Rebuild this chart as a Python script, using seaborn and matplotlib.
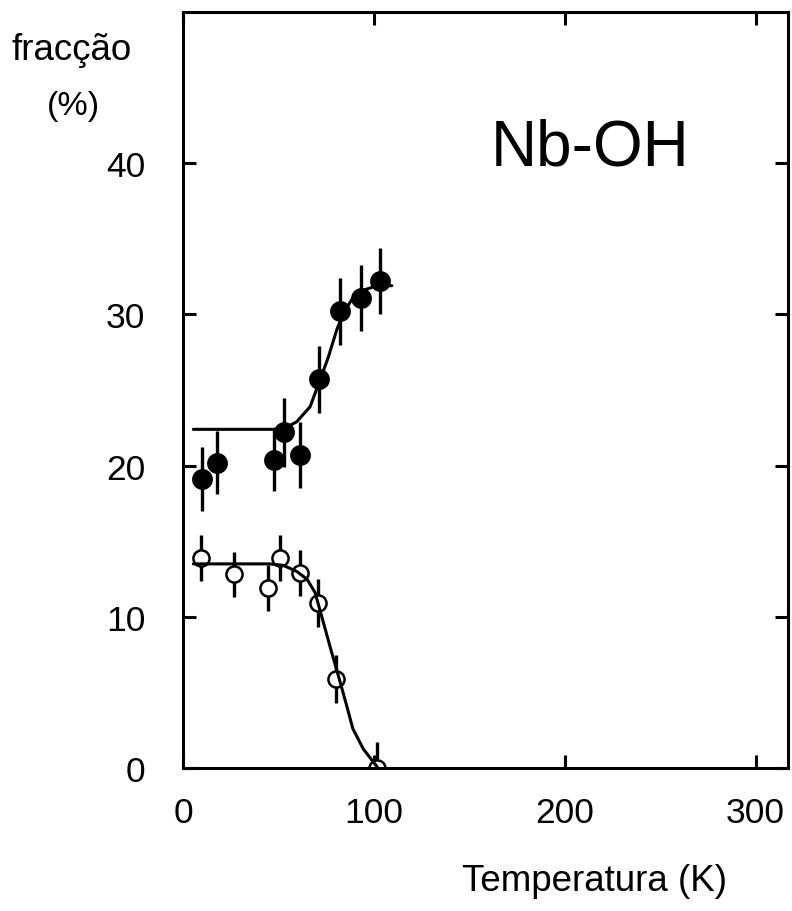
# plot.py
# Nb-OH fraction vs temperature

import numpy as np
import pandas as pd
import matplotlib
matplotlib.use("Agg")
import matplotlib.pyplot as plt
import seaborn as sns

# data
t_filled = [9.8, 17.7, 47.5, 53.1, 61.4, 71.3, 82.5, 93.2, 103.0]
f_filled = [19.1, 20.2, 20.4, 22.2, 20.7, 25.7, 30.2, 31.1, 32.2]
e_filled = [2.1, 2.1, 2.1, 2.3, 2.2, 2.2, 2.2, 2.2, 2.2]

t_open = [9.4, 26.9, 44.7, 50.9, 61.4, 70.6, 80.2, 101.9]
f_open = [13.9, 12.8, 11.9, 13.9, 12.9, 10.9, 5.9, 0.0]
e_open = [1.5, 1.5, 1.5, 1.5, 1.5, 1.6, 1.6, 1.7]

# fitted curves
fit_filled_t = [5.4, 47.4, 54.4, 59.6, 66.6, 71.3, 76.2, 80.6, 84.1, 88.5, 94.5, 101.6, 109.4]
fit_filled_f = [22.4, 22.4, 22.55, 22.9, 23.9, 25.5, 27.2, 29.0, 30.1, 31.0, 31.6, 31.9, 31.9]
fit_open_t = [5.4, 45.6, 52.6, 59.6, 64.9, 69.2, 73.6, 78.0, 82.3, 85.8, 89.0, 94.5, 101.9]
fit_open_f = [13.5, 13.5, 13.4, 13.0, 12.5, 11.6, 9.6, 7.6, 5.7, 4.1, 2.6, 1.25, 0.05]

sns.set_theme(style="ticks")
plt.rcParams['font.family'] = ['Liberation Sans', 'DejaVu Sans']
plt.rcParams['text.color'] = 'black'

fig = plt.figure(figsize=(7.92, 9.12), dpi=100)
ax = fig.add_axes([0.2311, 0.1568, 0.7638, 0.8289])

lw = 2.2

# error bars
ax.errorbar(t_filled, f_filled, yerr=e_filled, fmt="none", ecolor="black",
            elinewidth=2.4, capsize=0, zorder=1)
ax.errorbar(t_open, f_open, yerr=e_open, fmt="none", ecolor="black",
            elinewidth=2.4, capsize=0, zorder=1)

# markers
filled = pd.DataFrame({"t": t_filled, "f": f_filled})
opened = pd.DataFrame({"t": t_open, "f": f_open})
sns.scatterplot(data=filled, x="t", y="f", ax=ax, s=225, color="black",
                edgecolor="black", linewidth=0, zorder=2)
sns.scatterplot(data=opened, x="t", y="f", ax=ax, s=135, facecolor="white",
                edgecolor="black", linewidth=1.8, zorder=2)

# fit lines
sns.lineplot(x=fit_filled_t, y=fit_filled_f, ax=ax, sort=False, color="black",
             linewidth=lw, zorder=3)
sns.lineplot(x=fit_open_t, y=fit_open_f, ax=ax, sort=False, color="black",
             linewidth=lw, zorder=3)

ax.set_xlim(0, 317)
ax.set_ylim(0, 50)
ax.set_xticks([0, 100, 200, 300])
ax.set_yticks([0, 10, 20, 30, 40])
ax.tick_params(direction="in", length=9.5, width=lw, top=True, right=True,
               labelsize=25.5, colors="black")
ax.tick_params(axis="y", pad=27)
ax.tick_params(axis="x", pad=20)
for sp in ax.spines.values():
    sp.set_linewidth(lw)
    sp.set_color("black")
ax.set_xlabel("")
ax.set_ylabel("")

# labels
fig.text(72 / 792, 1 - 50 / 912, "fracção", fontsize=26.5, ha="center", va="center")
fig.text(73 / 792, 1 - 107 / 912, "(%)", fontsize=24.5, ha="center", va="center")
fig.text(595 / 792, 1 - 882 / 912, "Temperatura (K)", fontsize=26.5,
         ha="center", va="center")
fig.text(590 / 792, 1 - 149 / 912, "Nb-OH", fontsize=46, ha="center",
         va="center")

fig.savefig("out.png", dpi=100)
